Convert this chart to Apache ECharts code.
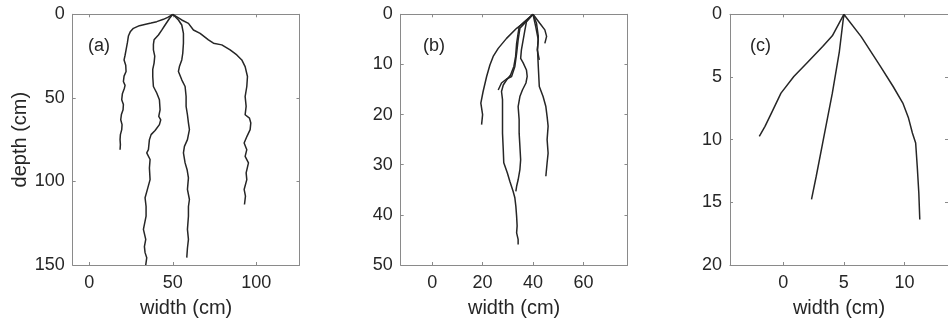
<!DOCTYPE html>
<html><head><meta charset="utf-8">
<script src="https://cdn.jsdelivr.net/npm/echarts@6/dist/echarts.min.js"></script>
<style>html,body{margin:0;padding:0;background:#fff}#c{width:948px;height:323px}</style>
</head><body><div id="c"></div>
<script>
// ---- tick labels ----
const xTicksA = [0, 50, 100];
const yTicksA = [0, 50, 100, 150];
const xTicksB = [0, 20, 40, 60];
const yTicksB = [0, 10, 20, 30, 40, 50];
const xTicksC = [0, 5, 10];
const yTicksC = [0, 5, 10, 15, 20];
const panelLabels = ['(a)', '(b)', '(c)'];
const xName = 'width (cm)';
const yName = 'depth (cm)';

// ---- panel (a) roots: [width, depth] ----
const rootA1 = [[50,0],[47,1.8],[44.4,3.0],[40.4,4.4],[37,5.2],[34.4,5.8],[30,6.8],[26.4,8.4],[24.5,10.5],[23.4,13],[22.8,17],[22.0,21.3],[21.4,24.5],[20.8,27.3],[21.8,30.5],[22.0,34.2],[20.8,37],[20.4,40.2],[21.4,42.5],[21.0,44.2],[19.8,47.5],[19.4,51.1],[20.4,54],[20.2,57.1],[19.2,60],[18.8,63.1],[19.6,66],[19.4,69.0],[18.6,72],[18.4,75.0],[18.6,78],[18.4,81.0]];
const rootA2 = [[50,0],[48,2.5],[45.4,6.4],[43.4,9.5],[41.4,12.4],[38.8,15.3],[38.4,18],[38.4,21.3],[39.2,25],[38.8,29.2],[38.0,33],[38.0,37.2],[38.4,43.2],[40.4,47.1],[42.0,51.1],[42.4,57.1],[41.6,61.1],[42.8,63.1],[42.0,66],[39.4,69.5],[37.0,72],[36.0,75.0],[35.4,81.0],[34.4,82.9],[36.4,86.9],[36.0,92],[36.4,98.9],[35.0,104],[33.4,109.8],[34.0,115],[34.0,120.8],[32.4,128.7],[33.8,134.7],[33.0,139],[33.4,142.6],[34.4,145.6],[33.8,150]];
const rootA3 = [[50,0],[53.4,3.4],[55.4,6.4],[56.4,11.4],[56.4,17.3],[56.0,23.3],[55.4,27.3],[54.0,31.3],[53.4,34.2],[55.4,39.2],[57.4,43.2],[58.0,49.2],[58.0,55.1],[58.8,60.1],[59.4,65.0],[60.0,69.0],[58.8,75.0],[57.0,79],[56.4,82.9],[57.4,88.9],[58.6,93],[59.4,97.9],[58.8,104.8],[60.0,110.8],[59.4,115],[59.4,120.8],[58.8,128.7],[59.4,134.7],[58.8,140],[58.4,145.6]];
const rootA4 = [[50,0],[55.4,3.4],[59.4,5.4],[62.4,9.4],[66.4,11.4],[71.4,15.3],[74.4,17.3],[79.4,18.3],[84.4,21.3],[88.4,24.3],[91.4,27.3],[93.4,31.3],[94.8,37.2],[94.4,43.2],[93.4,49.2],[94.0,55.1],[93.4,60.1],[96.0,62.1],[96.8,65.0],[96.4,69.0],[94.5,73],[92.8,77.0],[94.4,81.0],[93.4,85.0],[95.4,88.9],[94.0,94.9],[94.4,98.9],[92.8,104.8],[93.6,108.8],[93.0,113.8]];

// ---- panel (b) roots ----
const rootB1 = [[40,0],[36.1,1.8],[33.5,2.8],[29.5,4.8],[26.2,6.8],[24.2,8.4],[22.9,10.1],[21.6,12.4],[20.2,15.4],[19.3,17.7],[20.0,20.0],[19.6,22.0]];
const rootB2 = [[40,0],[36.1,1.7],[34.5,2.5],[34.1,3.8],[33.5,5.8],[33.1,8.4],[32.4,10.4],[31.1,12.1],[29.5,13.1],[28.2,14.1],[27.5,15.4],[27.9,17.0],[27.9,20.4],[27.9,23.7],[28.2,27.0],[28.4,29.6],[29.8,31.6],[30.8,33.3],[32.1,35.3],[32.8,36.6],[33.2,38.3],[33.5,40.3],[33.7,42.2],[33.5,43.6],[34.1,44.9],[34.1,45.9]];
const rootB3 = [[40,0],[36.5,1.9],[34.8,2.8],[34.1,5.1],[33.5,7.8],[32.8,10.4],[31.5,12.4],[29.5,12.9],[27.5,13.7],[26.2,15.1]];
const rootB4 = [[40,0],[37.4,1.5],[36.8,3.1],[36.1,5.1],[35.4,7.1],[35.1,8.8],[36.1,9.7],[37.4,11.1],[37.7,12.4],[37.2,13.7],[35.8,15.1],[34.8,16.4],[34.1,18.4],[34.5,21.0],[34.5,23.7],[34.8,26.3],[35.1,29.0],[34.8,31.0],[34.1,33.0],[33.5,34.3],[33.2,35.3]];
const rootB5 = [[40,0],[41.4,1.8],[42.1,4.4],[41.8,7.1],[42.1,10.4],[42.5,14.4],[44.0,16.4],[45.1,18.4],[45.6,20.4],[46.0,22.3],[45.6,25.0],[46.0,27.7],[45.6,29.6],[45.1,32.3]];
const rootB6 = [[40,0],[42.7,1.8],[44.7,3.1],[45.4,4.4],[44.7,5.8]];
const rootB7 = [[40,0],[41.1,2.5],[42.1,5.1],[41.7,7.1],[42.5,9.1]];

// ---- panel (c) roots ----
const rootC1 = [[5,0],[4.05,1.72],[3.25,2.57],[1.93,3.90],[0.87,4.96],[-0.19,6.29],[-0.98,7.88],[-1.51,8.94],[-1.98,9.73]];
const rootC2 = [[5,0],[4.63,2.97],[4.05,6.29],[3.25,10.27],[2.72,12.92],[2.33,14.77]];
const rootC3 = [[5,0],[6.43,1.78],[8.02,4.16],[9.07,5.76],[9.87,7.08],[10.34,8.28],[10.66,9.47],[10.93,10.27],[11.06,12.12],[11.19,14.24],[11.27,16.37]];

const FONT = '"Liberation Sans", Arial, Helvetica, sans-serif';
const TXT = '#262626';
const AX = '#8a8a8a';

const panels = [
  {left: 72.7, xmin: -10, xmax: 126, ymax: 150, xt: xTicksA, yt: yTicksA, roots: [rootA1, rootA2, rootA3, rootA4], yName: yName, labelX: 88},
  {left: 400.7, xmin: -12.5, xmax: 77.5, ymax: 50, xt: xTicksB, yt: yTicksB, roots: [rootB1, rootB2, rootB3, rootB4, rootB5, rootB6, rootB7], yName: '', labelX: 423},
  {left: 730, xmin: -4.4, xmax: 13.6, ymax: 20, xt: xTicksC, yt: yTicksC, roots: [rootC1, rootC2, rootC3], yName: '', labelX: 750}
];

const grid = [], xAxis = [], yAxis = [], series = [], graphic = [];
panels.forEach((p, i) => {
  grid.push({left: p.left, top: 14.3, width: 226.8, height: 251.4});
  const line = {show: true, onZero: false, lineStyle: {color: AX, width: 1}};
  const tick = (vals) => ({show: true, inside: true, length: 3, customValues: vals, lineStyle: {color: AX, width: 1}});
  xAxis.push({
    type: 'value', gridIndex: i, position: 'bottom', min: p.xmin, max: p.xmax,
    axisLine: line, axisTick: tick(p.xt), splitLine: {show: false},
    axisLabel: {customValues: p.xt, color: TXT, fontSize: 18, fontFamily: FONT, margin: 9},
    name: xName, nameLocation: 'middle', nameGap: 33,
    nameTextStyle: {color: TXT, fontSize: 20, fontFamily: FONT}
  });
  xAxis.push({
    type: 'value', gridIndex: i, position: 'top', min: p.xmin, max: p.xmax,
    axisLine: line, axisTick: tick(p.xt), splitLine: {show: false}, axisLabel: {show: false}
  });
  yAxis.push({
    type: 'value', gridIndex: i, position: 'left', min: 0, max: p.ymax, inverse: true,
    axisLine: line, axisTick: tick(p.yt), splitLine: {show: false},
    axisLabel: {customValues: p.yt, color: TXT, fontSize: 18, fontFamily: FONT, margin: 8},
    name: p.yName, nameLocation: 'middle', nameGap: 42,
    nameTextStyle: {color: TXT, fontSize: 20, fontFamily: FONT}
  });
  yAxis.push({
    type: 'value', gridIndex: i, position: 'right', min: 0, max: p.ymax, inverse: true,
    axisLine: line, axisTick: tick(p.yt), splitLine: {show: false}, axisLabel: {show: false}
  });
  p.roots.forEach(r => {
    series.push({
      type: 'line', xAxisIndex: 2 * i, yAxisIndex: 2 * i, data: r,
      showSymbol: false, symbol: 'none', silent: true, animation: false,
      lineStyle: {color: '#262626', width: 1.5}
    });
  });
  graphic.push({
    type: 'text', left: p.labelX, top: 37,
    style: {text: panelLabels[i], fill: TXT, font: '18px ' + FONT}
  });
});

const chart = echarts.init(document.getElementById('c'), null, {renderer: 'canvas'});
chart.setOption({backgroundColor: '#fff', animation: false, grid, xAxis, yAxis, series, graphic});
</script>
</body></html>
